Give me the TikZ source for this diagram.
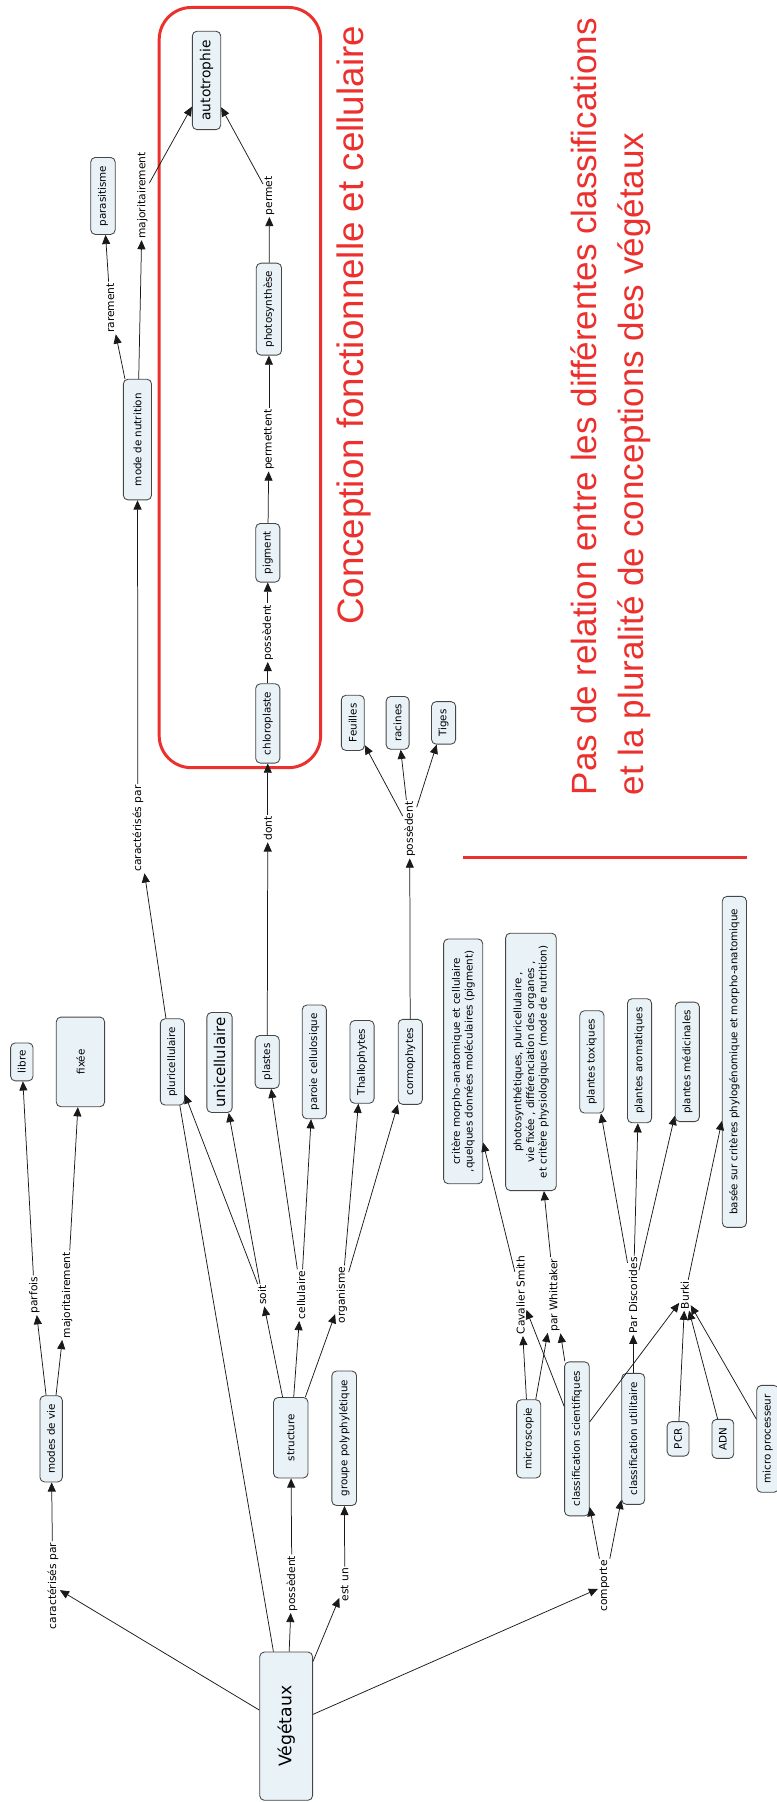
\documentclass[tikz,border=0pt]{standalone}
\usepackage{fontspec}
\setmainfont{DejaVu Sans}
\newfontfamily\titlefont{Liberation Sans}
\usetikzlibrary{arrows.meta}
\definecolor{conceptfill}{RGB}{232,242,247}
\definecolor{conceptborder}{RGB}{70,70,70}
\definecolor{linkink}{RGB}{25,25,25}
\definecolor{framered}{RGB}{236,48,45}

\begin{document}
\begin{tikzpicture}[x=1pt, y=-1pt,
  concept/.style={draw=conceptborder, fill=conceptfill, line width=0.75pt, rounded corners=4pt, rotate=90, inner sep=0pt, align=center, font=\fontsize{9}{11}\selectfont},
  linkphrase/.style={rotate=90, inner sep=1.2pt, font=\fontsize{9.3}{11}\selectfont},
  link/.style={draw=linkink, line width=0.65pt, -{Triangle[length=8pt,width=7pt]}},
  redtext/.style={text=framered, rotate=90, inner sep=0pt}]
  \useasboundingbox (0,0) rectangle (676,1568);

  % functional frame and separator
  \draw[framered, line width=2.6pt, rounded corners=28pt] (138.5,6.5) rectangle (279,668);
  \draw[framered, line width=2.6pt] (403,746) -- (650,746);
  \node[redtext, anchor=base west, font=\titlefont\fontsize{32}{38}\selectfont] (titre) at (316,544) {Conception fonctionnelle et cellulaire};
  \node[redtext, anchor=north west, align=left, font=\titlefont\fontsize{30.5}{41}\selectfont] (remarque) at (496,692) {Pas de relation entre les différentes classifications\\et la pluralité de conceptions des végétaux};

  % concepts
  \node[concept, minimum width=129pt, minimum height=46pt, font=\fontsize{15}{18}\selectfont] (veg) at (249,1502) {Végétaux};
  \node[concept, minimum width=75pt, minimum height=19.5pt] (modes) at (44.5,1252) {modes de vie};
  \node[concept, minimum width=70pt, minimum height=30pt] (struct) at (253,1251) {structure};
  \node[concept, minimum width=117pt, minimum height=21.5pt] (groupe) at (299.5,1251.5) {groupe polyphylétique};
  \node[concept, minimum width=33pt, minimum height=19.5pt] (libre) at (19,924) {libre};
  \node[concept, minimum width=78pt, minimum height=42pt] (fixee) at (70,924) {fixée};
  \node[concept, minimum width=75pt, minimum height=21pt] (pluri) at (150,924) {pluricellulaire};
  \node[concept, minimum width=87pt, minimum height=22pt, font=\fontsize{13}{15}\selectfont] (uni) at (191,924.5) {unicellulaire};
  \node[concept, minimum width=46pt, minimum height=21pt] (plastes) at (232.5,924) {plastes};
  \node[concept, minimum width=99pt, minimum height=21pt] (paroi) at (273.5,924) {paroie cellulosique};
  \node[concept, minimum width=72pt, minimum height=21pt] (thallo) at (315,924) {Thallophytes};
  \node[concept, minimum width=74pt, minimum height=21pt] (cormo) at (357,924) {cormophytes};
  \node[concept, minimum width=213pt, minimum height=34pt] (critere) at (403,923.5) {critère morpho-anatomique et cellulaire\\,quelques données moléculaires (pigment)};
  \node[concept, minimum width=224pt, minimum height=44pt] (critwhit) at (462,924) {photosynthétiques, pluricellulaire ,\\vie fixée , différenciation des organes ,\\et critère physiologiques (mode de nutrition)};
  \node[concept, minimum width=89pt, minimum height=21pt] (toxiques) at (515,924) {plantes toxiques};
  \node[concept, minimum width=108pt, minimum height=21pt] (aroma) at (556.5,923) {plantes aromatiques};
  \node[concept, minimum width=104pt, minimum height=21pt] (medic) at (598,924) {plantes médicinales};
  \node[concept, minimum width=288pt, minimum height=21pt] (basee) at (639,924) {basée sur critères phylogénomique et morpho-anatomique};
  \node[concept, minimum width=68pt, minimum height=21pt] (micro) at (460,1252) {microscopie};
  \node[concept, minimum width=134pt, minimum height=21.5pt] (classsci) at (502,1252) {classification scientifiques};
  \node[concept, minimum width=114pt, minimum height=20pt] (classutil) at (551,1252) {classification utilitaire};
  \node[concept, minimum width=30pt, minimum height=19pt] (pcr) at (590,1252) {PCR};
  \node[concept, minimum width=34pt, minimum height=19pt] (adn) at (629,1252) {ADN};
  \node[concept, minimum width=93pt, minimum height=19pt] (microproc) at (668,1252) {micro processeur};
  \node[concept, minimum width=105pt, minimum height=24.5pt] (nutrition) at (119.6,382.5) {mode de nutrition};
  \node[concept, minimum width=67pt, minimum height=21.3pt] (parasit) at (89.6,170.5) {parasitisme};
  \node[concept, minimum width=85.6pt, minimum height=24.7pt, font=\fontsize{12}{14}\selectfont] (autotro) at (179.7,70) {autotrophie};
  \node[concept, minimum width=80pt, minimum height=22pt] (photosyn) at (234,269) {photosynthèse};
  \node[concept, minimum width=51pt, minimum height=21pt] (pigment) at (233,481) {pigment};
  \node[concept, minimum width=69pt, minimum height=21pt] (chloro) at (233,629.5) {chloroplaste};
  \node[concept, minimum width=48pt, minimum height=20pt] (feuilles) at (307,629) {Feuilles};
  \node[concept, minimum width=46pt, minimum height=20pt] (racines) at (346,629) {racines};
  \node[concept, minimum width=37pt, minimum height=21pt] (tiges) at (386,629) {Tiges};

  % linking phrases
  \node[linkphrase] (lcarbas) at (46,1380) {caractérisés par};
  \node[linkphrase] (lposbas) at (254,1378) {possèdent};
  \node[linkphrase] (lestun) at (300,1379) {est un};
  \node[linkphrase] (lcomporte) at (526,1380) {comporte};
  \node[linkphrase] (lparfois) at (30,1127) {parfois};
  \node[linkphrase] (lmajbas) at (58.5,1127) {majoritairement};
  \node[linkphrase] (lsoit) at (228,1127) {soit};
  \node[linkphrase] (lcell) at (262,1127) {cellulaire};
  \node[linkphrase] (lorg) at (297.5,1127) {organisme};
  \node[linkphrase] (lcav) at (453,1127) {Cavalier Smith};
  \node[linkphrase] (lwhit) at (482.5,1127) {par Whittaker};
  \node[linkphrase] (ldisc) at (551,1127) {Par Discorides};
  \node[linkphrase] (lburki) at (596,1127) {Burki};
  \node[linkphrase] (lcarhaut) at (120,721) {caractérisés par};
  \node[linkphrase] (ldont) at (233,721) {dont};
  \node[linkphrase] (lposorg) at (356.5,721.5) {possèdent};
  \node[linkphrase] (lposchl) at (233,550.5) {possèdent};
  \node[linkphrase] (lpermettent) at (234,382.5) {permettent};
  \node[linkphrase] (lpermet) at (234.5,170.5) {permet};
  \node[linkphrase] (lrarement) at (96,268) {rarement};
  \node[linkphrase] (lmajhaut) at (124,170) {majoritairement};

  % links
  \foreach \src/\dst in {veg/lcarbas, lcarbas/modes, veg/lposbas, lposbas/struct, veg/lestun, lestun/groupe,
      veg/lcomporte, lcomporte/classsci, lcomporte/classutil,
      modes/lparfois, lparfois/libre, modes/lmajbas, lmajbas/fixee,
      struct/lsoit, lsoit/pluri, lsoit/uni, struct/lcell, lcell/plastes, lcell/paroi,
      struct/lorg, lorg/thallo, lorg/cormo,
      pluri/lcarhaut, lcarhaut/nutrition, plastes/ldont, ldont/chloro,
      cormo/lposorg, lposorg/feuilles, lposorg/racines, lposorg/tiges,
      chloro/lposchl, lposchl/pigment, pigment/lpermettent, lpermettent/photosyn, photosyn/lpermet, lpermet/autotro,
      nutrition/lrarement, lrarement/parasit, nutrition/lmajhaut, lmajhaut/autotro,
      micro/lcav, micro/lwhit, classsci/lcav, classsci/lwhit, classsci/lburki, lcav/critere, lwhit/critwhit,
      classutil/ldisc, ldisc/toxiques, ldisc/aroma, ldisc/medic,
      pcr/lburki, adn/lburki, microproc/lburki, lburki/basee}
    \draw[link] (\src) -- (\dst);
  \draw[draw=linkink, line width=0.65pt] (veg) -- (pluri);
\end{tikzpicture}
\end{document}
